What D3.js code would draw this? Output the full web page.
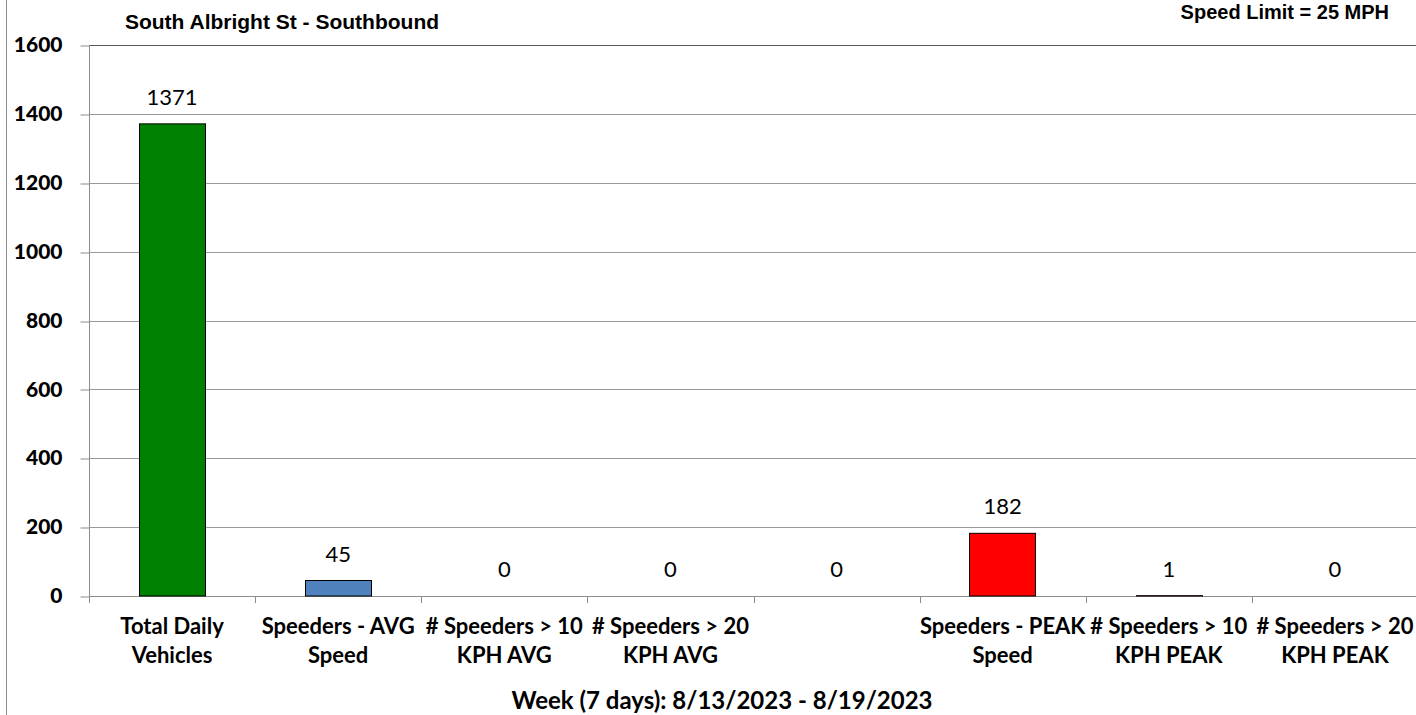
<!DOCTYPE html>
<html>
<head>
<meta charset="utf-8">
<script src="https://cdn.jsdelivr.net/npm/d3@7"></script>
<style>
  body { margin: 0; background: #fff; }
  svg { display: block; }
</style>
</head>
<body>
<div class="drawingboard"></div>
<script>
// chart values
const chartTitle = "South Albright St - Southbound";
const speedLimit = "Speed Limit = 25 MPH";
const xTitle = "Week (7 days): 8/13/2023 - 8/19/2023";
const categories = [
    "Total Daily Vehicles",
    "Speeders - AVG Speed",
    "# Speeders > 10 KPH AVG",
    "# Speeders > 20 KPH AVG",
    "",
    "Speeders - PEAK Speed",
    "# Speeders > 10 KPH PEAK",
    "# Speeders > 20 KPH PEAK"
];
const values = [1371, 45, 0, 0, 0, 182, 1, 0];
const yTicks = [0, 200, 400, 600, 800, 1000, 1200, 1400, 1600];
const barColors = ["#008000", "#4f81bd", "#4f81bd", "#4f81bd", "#4f81bd", "#ff0000", "#ff0000", "#ff0000"];

var width = 1416, height = 715;
var plotLeft = 89, plotRight = 1418, plotTop = 45, plotBottom = 596;
var labelFont = "Lato, 'Open Sans', sans-serif";

var svg = d3.select(".drawingboard")
    .append("svg")
    .attr("width", width)
    .attr("height", height);

// outer chart border (only left edge visible)
svg.append("line")
    .attr("x1", 6.5).attr("x2", 6.5)
    .attr("y1", 0).attr("y2", height)
    .style("stroke", "#8c8c8c");

var x = d3.scaleBand()
    .domain(d3.range(categories.length))
    .range([plotLeft, plotRight])
    .padding(0);

var y = d3.scaleLinear()
    .domain([0, 1600])
    .range([plotBottom, plotTop]);

// gridlines
svg.append("g")
    .selectAll("line")
    .data(yTicks.filter(d => d > 0))
    .enter().append("line")
    .attr("x1", plotLeft).attr("x2", plotRight)
    .attr("y1", d => Math.round(y(d)) + 0.5)
    .attr("y2", d => Math.round(y(d)) + 0.5)
    .style("stroke", d => d === 1600 ? "#595959" : "#9a9a9a");

// y axis
var yAxis = svg.append("g")
    .attr("transform", "translate(" + (plotLeft + 0.5) + ",0)")
    .call(d3.axisLeft(y).tickValues(yTicks).tickSize(9).tickPadding(18).tickFormat(d3.format("d")));
yAxis.select(".domain").attr("d", "M0," + plotTop + "V" + plotBottom).style("stroke", "#8c8c8c");
yAxis.selectAll(".tick line").style("stroke", "#8c8c8c")
    .attr("transform", d => "translate(0," + (Math.round(y(d)) + 0.5 - y(d)) + ")");
yAxis.selectAll(".tick text")
    .style("font-family", labelFont)
    .style("font-weight", "900")
    .style("font-size", "21px")
    .style("fill", "#000");

// x axis line + ticks
svg.append("line")
    .attr("x1", plotLeft).attr("x2", plotRight)
    .attr("y1", plotBottom + 0.5).attr("y2", plotBottom + 0.5)
    .style("stroke", "#8c8c8c");
svg.append("g")
    .selectAll("line")
    .data(d3.range(categories.length + 1))
    .enter().append("line")
    .attr("x1", d => Math.round(plotLeft + d * x.step()) + 0.5)
    .attr("x2", d => Math.round(plotLeft + d * x.step()) + 0.5)
    .attr("y1", plotBottom).attr("y2", plotBottom + 7)
    .style("stroke", "#8c8c8c");

// bars
var barW = x.bandwidth() * 0.4;
svg.append("g")
    .selectAll("rect")
    .data(values.map((v, i) => ({ v: v, i: i })).filter(d => d.v > 0))
    .enter().append("rect")
    .attr("x", d => Math.round(x(d.i) + (x.bandwidth() - barW) / 2) + 0.5)
    .attr("y", d => y(d.v))
    .attr("width", Math.round(barW))
    .attr("height", d => plotBottom - y(d.v))
    .style("fill", d => barColors[d.i])
    .style("stroke", "#000")
    .style("stroke-width", 1);

// data labels
svg.append("g")
    .selectAll("text")
    .data(values)
    .enter().append("text")
    .attr("x", (d, i) => x(i) + x.bandwidth() / 2)
    .attr("y", d => y(d) - 19)
    .attr("text-anchor", "middle")
    .style("font-family", labelFont)
    .style("font-size", "22px")
    .text(d => d);

// category labels, wrapped into the slot width
var catG = svg.append("g");
categories.forEach(function (c, i) {
    var t = catG.append("text")
        .attr("x", x(i) + x.bandwidth() / 2)
        .attr("y", 634)
        .attr("text-anchor", "middle")
        .style("font-family", labelFont)
        .style("font-weight", "bold")
        .style("font-size", "22px");
    var words = c.split(" ").filter(w => w);
    if (!words.length) return;
    var line = [], lines = [];
    var probe = t.append("tspan");
    words.forEach(function (w) {
        line.push(w);
        probe.text(line.join(" "));
        if (probe.node().getComputedTextLength() > 176 && line.length > 1) {
            line.pop();
            lines.push(line.join(" "));
            line = [w];
        }
    });
    lines.push(line.join(" "));
    probe.remove();
    lines.forEach(function (l, k) {
        t.append("tspan")
            .attr("x", x(i) + x.bandwidth() / 2)
            .attr("dy", k === 0 ? 0 : 29)
            .text(l);
    });
});

// titles
svg.append("text")
    .attr("x", 282).attr("y", 29)
    .attr("text-anchor", "middle")
    .style("font-family", "'Liberation Sans', Arial, sans-serif")
    .style("font-weight", "bold")
    .style("font-size", "21px")
    .text(chartTitle);

svg.append("text")
    .attr("x", 1389).attr("y", 19)
    .attr("text-anchor", "end")
    .style("font-family", "'Liberation Sans', Arial, sans-serif")
    .style("font-weight", "bold")
    .style("font-size", "20px")
    .text(speedLimit);

svg.append("text")
    .attr("x", 722).attr("y", 709)
    .attr("text-anchor", "middle")
    .style("font-family", labelFont)
    .style("font-weight", "bold")
    .style("font-size", "24px")
    .text(xTitle);
</script>
</body>
</html>
